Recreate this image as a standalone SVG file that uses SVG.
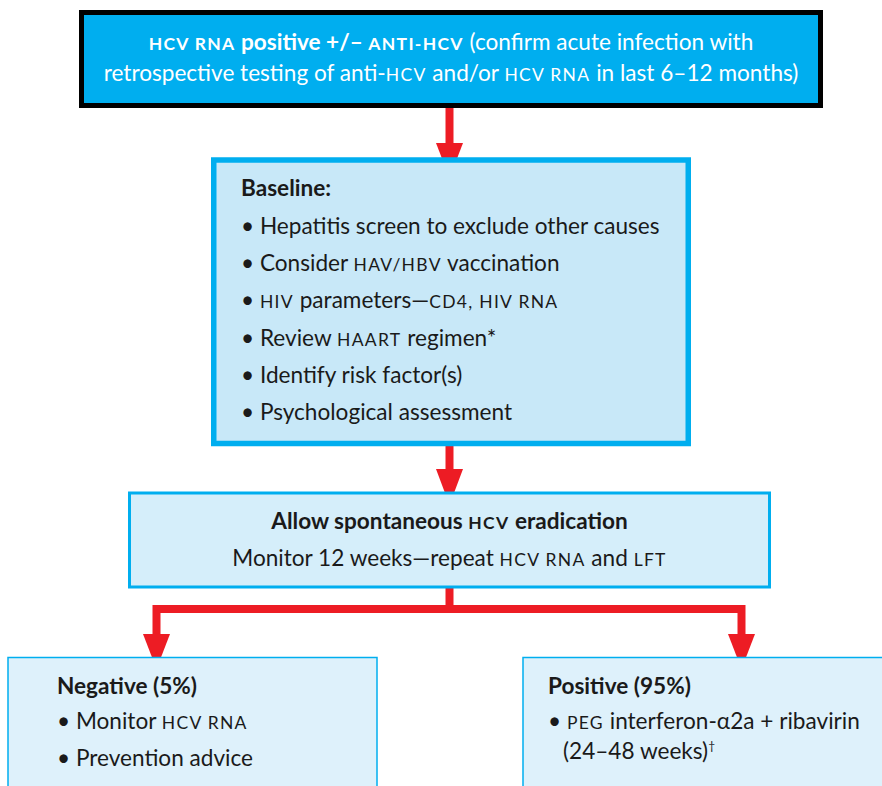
<svg xmlns="http://www.w3.org/2000/svg" width="882" height="786" viewBox="0 0 882 786">
<style>
text{font-family:Lato,"Liberation Sans",sans-serif;font-size:22.6px;fill:#1a1a1a}
.w{fill:#ffffff}
.b{font-weight:bold}
.sc{font-size:17.5px;letter-spacing:1.3px}
.scb{font-size:17.5px;letter-spacing:1.3px;font-weight:bold}
.shaft{stroke:#ED1C24;stroke-width:8;fill:none}
.head{fill:#ED1C24}
</style>
<rect width="882" height="786" fill="#ffffff"/>
<g id="connectors">
<path class="shaft" d="M449.5,108 V145"/>
<polygon class="head" points="436,143 463,143 449.5,178"/>
<path class="shaft" d="M449.5,446 V471"/>
<polygon class="head" points="436,469 463,469 449.5,505"/>
<path class="shaft" d="M449.5,587 V609 H156.5 V636 M449.5,609 H741.5 V636"/>
<polygon class="head" points="143,634 170,634 156.5,669"/>
<polygon class="head" points="728,634 755,634 741.5,669"/>
</g>
<g id="top">
<rect x="81.5" y="12.5" width="739" height="93" fill="#00AEEF" stroke="#000000" stroke-width="5"/>
<text class="w" x="451" y="50" text-anchor="middle"><tspan class="scb">HCV RNA</tspan><tspan class="b"> positive +/– </tspan><tspan class="scb">ANTI-HCV</tspan> (confirm acute infection with</text>
<text class="w" x="451" y="81" text-anchor="middle">retrospective testing of anti-<tspan class="sc">HCV</tspan> and/or <tspan class="sc">HCV RNA</tspan> in last 6–12 months)</text>
</g>
<g id="baseline">
<rect x="213.75" y="160" width="474.5" height="283.5" fill="#C8E8F8" stroke="#00AEEF" stroke-width="5.5"/>
<text class="b" x="241" y="196">Baseline:</text>
<text x="241" y="234">• Hepatitis screen to exclude other causes</text>
<text x="241" y="271">• Consider <tspan class="sc">HAV/HBV</tspan> vaccination</text>
<text x="241" y="308">• <tspan class="sc">HIV</tspan> parameters—<tspan class="sc">CD4, HIV RNA</tspan></text>
<text x="241" y="346">• Review <tspan class="sc">HAART</tspan> regimen*</text>
<text x="241" y="383">• Identify risk factor(s)</text>
<text x="241" y="420">• Psychological assessment</text>
</g>
<g id="monitor">
<rect x="129.5" y="493" width="640" height="94" fill="#D5EEFA" stroke="#00AEEF" stroke-width="3"/>
<text class="b" x="449.5" y="529" text-anchor="middle">Allow spontaneous <tspan class="scb">HCV</tspan> eradication</text>
<text x="449.5" y="566" text-anchor="middle">Monitor 12 weeks—repeat <tspan class="sc">HCV RNA</tspan> and <tspan class="sc">LFT</tspan></text>
</g>
<g id="negative">
<rect x="8" y="657.5" width="369" height="140" fill="#DEF1FB" stroke="#00AEEF" stroke-width="1.5"/>
<text class="b" x="57" y="694">Negative (5%)</text>
<text x="57" y="729">• Monitor <tspan class="sc">HCV RNA</tspan></text>
<text x="57" y="766">• Prevention advice</text>
</g>
<g id="positive">
<rect x="523" y="657.5" width="370" height="140" fill="#DEF1FB" stroke="#00AEEF" stroke-width="1.5"/>
<text class="b" x="548" y="694">Positive (95%)</text>
<text x="548" y="729">• <tspan class="sc">PEG</tspan> interferon-α2a + ribavirin</text>
<text x="563" y="759">(24–48 weeks)<tspan font-size="12" dy="-9">†</tspan></text>
</g>
</svg>
